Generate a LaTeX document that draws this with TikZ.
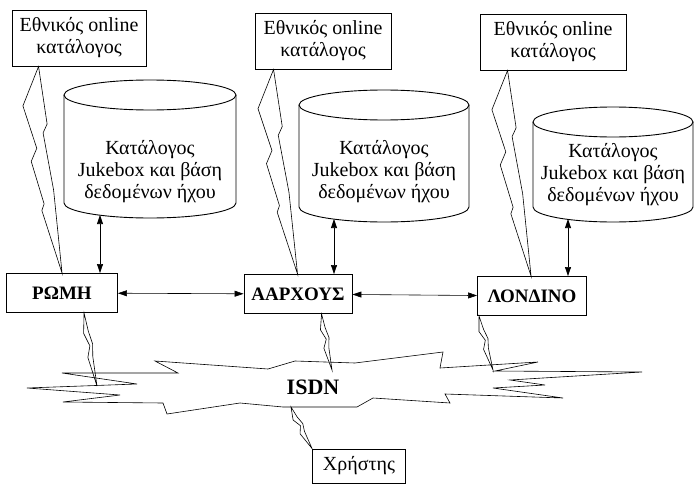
\documentclass[tikz,border=0pt]{standalone}
\usepackage{fontspec}
\setmainfont{Liberation Serif}
\usetikzlibrary{arrows.meta, calc}

\tikzset{
  catbox/.style={draw, line width=0.9pt, align=center, inner sep=1pt, minimum height=56pt, font=\fontsize{20}{22}\selectfont},
  citybox/.style={draw, line width=0.9pt, minimum height=39pt, font=\fontsize{19}{22}\selectfont\bfseries},
  dbtext/.style={align=center, inner sep=0pt, font=\fontsize{20}{22}\selectfont},
  drumline/.style={line width=0.9pt},
  bolt/.style={line width=0.6pt},
  link/.style={line width=0.6pt, {Triangle[length=9pt,width=6pt]}-{Triangle[length=9pt,width=6pt]}},
}

% database drum: name, x, y of top ellipse, y of bottom ellipse, x radius
\newcommand{\drum}[5]{%
  \coordinate (#1-t) at (#2,#3);
  \coordinate (#1-b) at (#2,#4);
  \draw[drumline] (#1-t) ellipse [x radius=#5pt, y radius=15pt];
  \draw[drumline] ([xshift=-#5pt]#1-t) -- ([xshift=-#5pt]#1-b)
    arc [start angle=180, end angle=360, x radius=#5pt, y radius=15pt]
    -- ([xshift=#5pt]#1-t);
}

% long lightning bolt from #1 down to #2
\newcommand{\flash}[2]{%
  \draw[bolt] (#1)
    -- ($(#1)!0.18!(#2)!20pt!-90:(#2)$)
    -- ($(#1)!0.39!(#2)!11pt!-90:(#2)$)
    -- ($(#1)!0.45!(#2)!18pt!-90:(#2)$)
    -- ($(#1)!0.66!(#2)!10pt!-90:(#2)$)
    -- ($(#1)!0.69!(#2)!13pt!-90:(#2)$)
    -- (#2)
    -- ($(#1)!0.60!(#2)!1pt!90:(#2)$)
    -- ($(#1)!0.32!(#2)!3pt!-90:(#2)$)
    -- ($(#1)!0.28!(#2)!2pt!90:(#2)$)
    -- cycle;
}

% short narrow bolt from #1 down to #2
\newcommand{\spark}[2]{%
  \draw[bolt] (#1)
    -- ($(#1)!0.27!(#2)!4pt!-90:(#2)$)
    -- ($(#1)!0.45!(#2)!0pt!-90:(#2)$)
    -- ($(#1)!0.60!(#2)!4pt!-90:(#2)$)
    -- (#2)
    -- ($(#1)!0.60!(#2)!1pt!90:(#2)$)
    -- ($(#1)!0.43!(#2)!3pt!90:(#2)$)
    -- ($(#1)!0.25!(#2)!1pt!90:(#2)$)
    -- cycle;
}

\begin{document}
\begin{tikzpicture}[x=1pt, y=-1pt]
  \useasboundingbox (0,0) rectangle (696,487);

  % national catalogues
  \node[catbox, minimum width=134pt] (cat1) at (79,38) {Εθνικός online\\κατάλογος};
  \node[catbox, minimum width=136pt] (cat2) at (323,41) {Εθνικός online\\κατάλογος};
  \node[catbox, minimum width=146pt] (cat3) at (553,42) {Εθνικός online\\κατάλογος};

  % jukebox databases
  \drum{db1}{150}{95}{203}{86}
  \drum{db2}{384}{105}{207}{85}
  \drum{db3}{613}{122}{207}{80}
  \node[dbtext] (db1) at (150,172) {Κατάλογος\\Jukebox και βάση\\δεδομένων ήχου};
  \node[dbtext] (db2) at (384,172) {Κατάλογος\\Jukebox και βάση\\δεδομένων ήχου};
  \node[dbtext] (db3) at (613,175) {Κατάλογος\\Jukebox και βάση\\δεδομένων ήχου};

  % sites
  \node[citybox, minimum width=111pt] (rome) at (62,293) {ΡΩΜΗ};
  \node[citybox, minimum width=108pt] (aarhus) at (298,294) {ΑΑΡΧΟΥΣ};
  \node[citybox, minimum width=109pt] (london) at (532,296) {ΛΟΝΔΙΝΟ};

  \draw[link] (rome) -- (aarhus);
  \draw[link] (aarhus) -- (london);

  \coordinate (p1) at ([xshift=-50pt,yshift=-12pt]db1-b);
  \coordinate (p2) at ([xshift=-50pt,yshift=-12pt]db2-b);
  \coordinate (p3) at ([xshift=-45pt,yshift=-12pt]db3-b);
  \draw[link] (p1) -- (p1 |- rome.north);
  \draw[link] (p2) -- (p2 |- aarhus.north);
  \draw[link] (p3) -- (p3 |- london.north);

  % links to the national catalogues
  \coordinate (z1a) at ([xshift=27pt]cat1.south west);
  \coordinate (z1b) at ([xshift=56pt]rome.north west);
  \coordinate (z2a) at ([xshift=19pt]cat2.south west);
  \coordinate (z2b) at ([xshift=54pt]aarhus.north west);
  \coordinate (z3a) at ([xshift=28pt]cat3.south west);
  \coordinate (z3b) at ([xshift=54pt]london.north west);
  \flash{z1a}{z1b}
  \flash{z2a}{z2b}
  \flash{z3a}{z3b}

  % ISDN network
  \draw[bolt] (62,373) -- (178,373) -- (155,361) -- (268,369) -- (295,361)
    -- (355,363) -- (443,352) -- (440,368) -- (538,362) -- (495,371)
    -- (642,372) -- (510,380) -- (545,385) -- (493,388) -- (563,398)
    -- (445,394) -- (450,403) -- (373,398) -- (357,407) -- (283,407)
    -- (240,403) -- (167,414) -- (163,403) -- (63,402) -- (120,395)
    -- (27,388) -- (137,384) -- cycle;
  \node[font=\fontsize{22}{24}\selectfont\bfseries] (isdn) at (313,387) {ISDN};

  \node[draw, line width=0.9pt, minimum width=93pt, minimum height=34pt,
        font=\fontsize{20}{22}\selectfont] (user) at (359,466) {Χρήστης};

  \coordinate (r1a) at ([xshift=78pt]rome.south west);
  \coordinate (r1b) at (97,386);
  \coordinate (r2a) at ([xshift=78pt]aarhus.south west);
  \coordinate (r2b) at (332,370);
  \coordinate (r3a) at ([xshift=2pt]london.south west);
  \coordinate (r3b) at (493,370);
  \coordinate (u1a) at (291,407);
  \spark{r1a}{r1b}
  \spark{r2a}{r2b}
  \spark{r3a}{r3b}
  \spark{u1a}{user.north west}
\end{tikzpicture}
\end{document}
